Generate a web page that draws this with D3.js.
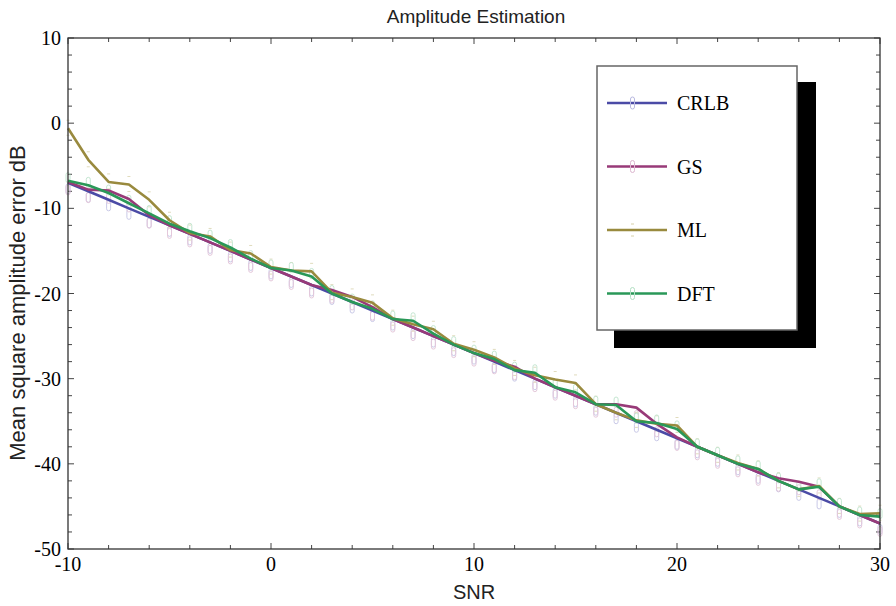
<!DOCTYPE html>
<html>
<head>
<meta charset="utf-8">
<script src="https://cdn.jsdelivr.net/npm/d3@7"></script>
<style>
  body { margin: 0; background: #fff; }
  svg { display: block; }
</style>
</head>
<body>
<div id="chart"></div>
<script>
// values, one per SNR step
var snr = [-10,-9,-8,-7,-6,-5,-4,-3,-2,-1,0,1,2,3,4,5,6,7,8,9,10,11,12,13,14,15,16,17,18,19,20,21,22,23,24,25,26,27,28,29,30];
var crlb = [-7,-8,-9,-10,-11,-12,-13,-14,-15,-16,-17,-18,-19,-20,-21,-22,-23,-24,-25,-26,-27,-28,-29,-30,-31,-32,-33,-34,-35,-36,-37,-38,-39,-40,-41,-42,-43,-44,-45,-46,-47];
var gs = [-6.9,-7.8,-7.9,-8.9,-10.8,-12.0,-13.0,-14.0,-15.0,-16.0,-17.0,-18.0,-19.0,-19.6,-20.4,-21.6,-23.0,-24.0,-25.0,-26.0,-27.0,-27.9,-28.6,-30.0,-31.0,-32.0,-33.0,-33.0,-33.4,-35.3,-36.9,-38.0,-39.0,-40.0,-41.0,-41.7,-42.1,-42.7,-45.0,-46.0,-47.0];
var ml = [-0.6,-4.3,-6.9,-7.2,-9.0,-11.4,-12.9,-13.3,-14.9,-15.3,-16.9,-17.3,-17.4,-19.9,-20.4,-21.1,-22.9,-23.6,-24.2,-25.9,-26.6,-27.5,-28.8,-29.6,-30.1,-30.5,-33.0,-34.0,-34.9,-35.3,-35.5,-38.0,-39.0,-39.9,-40.6,-42.0,-43.0,-42.6,-45.0,-45.9,-45.8];
var dft = [-6.75,-7.3,-8.2,-9.4,-10.6,-11.8,-12.7,-13.5,-14.6,-15.9,-17.0,-17.3,-18.0,-20.0,-21.0,-21.8,-23.0,-23.2,-24.7,-26.0,-27.0,-27.7,-29.0,-29.3,-31.0,-31.6,-33.0,-33.1,-35.0,-35.2,-35.9,-38.0,-39.0,-40.0,-40.6,-42.0,-43.0,-42.7,-45.0,-46.0,-46.2];
var seriesNames = ["CRLB", "GS", "ML", "DFT"];
var xTickLabels = [-10, 0, 10, 20, 30];
var yTickLabels = [10, 0, -10, -20, -30, -40, -50];

var colors = {CRLB: "#4b4ba6", GS: "#983a78", ML: "#998a3e", DFT: "#2a9858"};
var pale = {CRLB: "#b8b8e0", GS: "#dcb6cf", ML: "#d6d0a8", DFT: "#b2dfc3"};
var values = {CRLB: crlb, GS: gs, ML: ml, DFT: dft};

var W = 896, H = 606;
var plotLeft = 68, plotRight = 880, plotTop = 38, plotBottom = 549;

var svg = d3.select("#chart").append("svg")
    .attr("width", W)
    .attr("height", H);

var x = d3.scaleLinear().domain([-10, 30]).range([plotLeft, plotRight]);
var y = d3.scaleLinear().domain([-50, 10]).range([plotBottom, plotTop]);

// ticks inside on all four sides, every 2 units
var minorX = d3.range(-10, 31, 2), minorY = d3.range(-50, 11, 2);
var tk = svg.append("g").attr("stroke", "#444").attr("stroke-width", 1);
minorX.forEach(function (v) {
    var len = v % 10 === 0 ? 6 : 4;
    tk.append("line").attr("x1", x(v)).attr("x2", x(v)).attr("y1", plotBottom).attr("y2", plotBottom - len);
    tk.append("line").attr("x1", x(v)).attr("x2", x(v)).attr("y1", plotTop).attr("y2", plotTop + len);
});
minorY.forEach(function (v) {
    var len = v % 10 === 0 ? 6 : 4;
    tk.append("line").attr("y1", y(v)).attr("y2", y(v)).attr("x1", plotLeft).attr("x2", plotLeft + len);
    tk.append("line").attr("y1", y(v)).attr("y2", y(v)).attr("x1", plotRight).attr("x2", plotRight - len);
});

// tick labels
svg.append("g").selectAll("text")
    .data(xTickLabels)
    .enter()
    .append("text")
    .attr("x", function (d) { return x(d); })
    .attr("y", 571)
    .attr("text-anchor", "middle")
    .attr("font-family", "Liberation Serif, Times New Roman, serif")
    .attr("font-size", 20)
    .text(function (d) { return d; });

svg.append("g").selectAll("text")
    .data(yTickLabels)
    .enter()
    .append("text")
    .attr("x", 61)
    .attr("y", function (d) { return y(d) + 7; })
    .attr("text-anchor", "end")
    .attr("font-family", "Liberation Serif, Times New Roman, serif")
    .attr("font-size", 20)
    .text(function (d) { return d; });

// faint error-bar glyphs at each point
var glyphs = svg.append("g").attr("fill", "none").attr("stroke-width", 1).attr("opacity", 0.75);
seriesNames.forEach(function (name) {
    var vals = values[name];
    snr.forEach(function (s, i) {
        var cx = x(s), cy = y(vals[i]);
        if (name === "ML") {
            glyphs.append("line").attr("x1", cx - 1.5).attr("x2", cx + 1.5)
                .attr("y1", cy - 8).attr("y2", cy - 8).attr("stroke", pale.ML);
            glyphs.append("line").attr("x1", cx - 1.5).attr("x2", cx + 1.5)
                .attr("y1", cy + 7).attr("y2", cy + 7).attr("stroke", pale.ML);
        } else {
            var dy = name === "CRLB" ? 6 : (name === "GS" ? 8 : -3);
            glyphs.append("rect")
                .attr("x", cx - 2).attr("y", cy + dy - 5)
                .attr("width", 4).attr("height", 10)
                .attr("rx", 2)
                .attr("stroke", pale[name]);
        }
    });
});

// series lines, CRLB drawn first so it sits underneath
var line = d3.line()
    .x(function (d) { return x(d[0]); })
    .y(function (d) { return y(d[1]); });

seriesNames.forEach(function (name) {
    var vals = values[name];
    svg.append("path")
        .datum(snr.map(function (s, i) { return [s, vals[i]]; }))
        .attr("d", line)
        .attr("fill", "none")
        .attr("stroke", colors[name])
        .attr("stroke-width", 2.6)
        .attr("stroke-linejoin", "round");
});

// frame
svg.append("rect")
    .attr("x", plotLeft).attr("y", plotTop)
    .attr("width", plotRight - plotLeft).attr("height", plotBottom - plotTop)
    .attr("fill", "none")
    .attr("stroke", "#333")
    .attr("stroke-width", 1.3);

// legend with shadow
svg.append("rect").attr("x", 614).attr("y", 82).attr("width", 202).attr("height", 266).attr("fill", "#000");
svg.append("rect").attr("x", 597).attr("y", 66).attr("width", 200).attr("height", 264)
    .attr("fill", "#fff").attr("stroke", "#666").attr("stroke-width", 1.5);

seriesNames.forEach(function (name, i) {
    var ly = 103 + i * 63.5;
    svg.append("line")
        .attr("x1", 607).attr("x2", 667)
        .attr("y1", ly).attr("y2", ly)
        .attr("stroke", colors[name]).attr("stroke-width", 2.6);
    if (name === "ML") {
        svg.append("line").attr("x1", 631).attr("x2", 634).attr("y1", ly - 6).attr("y2", ly - 6).attr("stroke", pale.ML);
        svg.append("line").attr("x1", 631).attr("x2", 634).attr("y1", ly + 6).attr("y2", ly + 6).attr("stroke", pale.ML);
    } else {
        svg.append("rect").attr("x", 630.5).attr("y", ly - 6).attr("width", 4).attr("height", 12)
            .attr("rx", 2).attr("fill", "none").attr("stroke", pale[name]);
    }
    svg.append("text")
        .attr("x", 677).attr("y", ly + 7)
        .attr("font-family", "Liberation Serif, Times New Roman, serif")
        .attr("font-size", 20)
        .text(name);
});

// titles
svg.append("text")
    .attr("x", 476).attr("y", 23)
    .attr("text-anchor", "middle")
    .attr("font-family", "Liberation Sans, Arial, sans-serif")
    .attr("font-size", 19)
    .attr("fill", "#222")
    .text("Amplitude Estimation");

svg.append("text")
    .attr("x", 474).attr("y", 599)
    .attr("text-anchor", "middle")
    .attr("font-family", "Liberation Sans, Arial, sans-serif")
    .attr("font-size", 20)
    .attr("fill", "#222")
    .text("SNR");

svg.append("text")
    .attr("transform", "translate(25,303) rotate(-90)")
    .attr("text-anchor", "middle")
    .attr("font-family", "Liberation Sans, Arial, sans-serif")
    .attr("font-size", 22)
    .attr("fill", "#222")
    .text("Mean square amplitude error dB");
</script>
</body>
</html>
